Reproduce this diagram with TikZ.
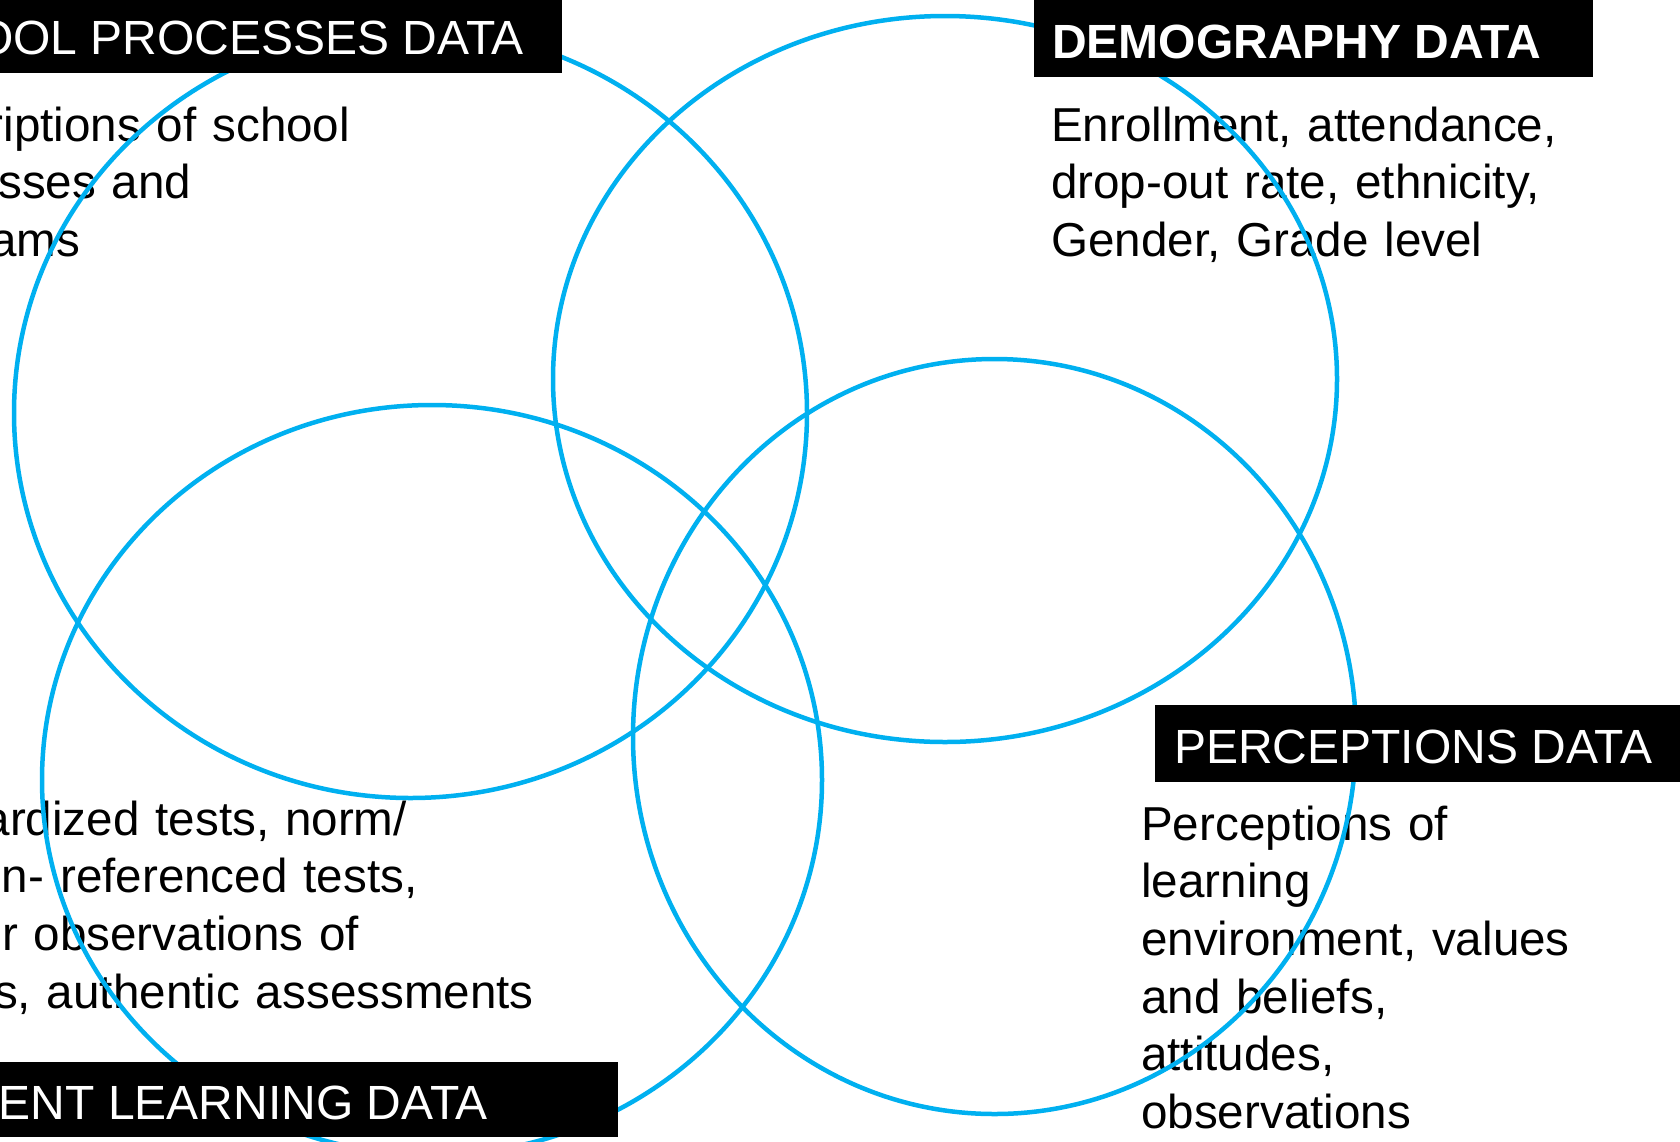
\documentclass[tikz,border=0pt]{standalone}
\usepackage{fontspec}
\setmainfont{Liberation Sans}
\definecolor{vennblue}{HTML}{00B0F0}
\begin{document}
\begin{tikzpicture}[x=1pt,y=-1pt,
  venn/.style={draw=vennblue,line width=4.5pt},
  headbox/.style={fill=black},
  headtext/.style={inner sep=0pt,text=white,font=\fontsize{48pt}{56pt}\selectfont},
  bodytext/.style={inner sep=0pt,align=left,text width=900pt,font=\fontsize{47.6pt}{57.7pt}\selectfont}]
\useasboundingbox (0,0) rectangle (1680,1141);
\clip (0,0) rectangle (1680,1141);
\fill[white] (0,0) rectangle (1680,1141);
% body texts
\node[bodytext,anchor=base west] (spbody) at (-121,141) {Descriptions of school\\processes and\\programs};
\node[bodytext,anchor=base west] (dembody) at (1051,141) {Enrollment, attendance,\\drop-out rate, ethnicity,\\Gender, Grade level};
\node[bodytext,anchor=base west] (slbody) at (-141,835) {Standardized tests, norm/\\criterion- referenced tests,\\teacher observations of\\abilities, authentic assessments};
\node[bodytext,anchor=base west] (perbody) at (1141,840) {Perceptions of\\learning\\environment, values\\and beliefs,\\attitudes,\\observations};
% ellipses
\draw[venn] (410.5,413) ellipse [x radius=396.5pt, y radius=385pt];
\draw[venn] (945,379) ellipse [x radius=392pt, y radius=363pt];
\draw[venn] (432,780) ellipse [x radius=390pt, y radius=375pt];
\draw[venn] (994.5,736.5) ellipse [x radius=361.5pt, y radius=377.5pt];
% header boxes
\fill[headbox] (-200,-10) rectangle (562,73);
\fill[headbox] (1034,-10) rectangle (1593,77);
\fill[headbox] (-200,1062) rectangle (618,1137);
\fill[headbox] (1155,705) rectangle (1700,782);
\node[headtext,anchor=base east] (sphead) at (524,54) {SCHOOL PROCESSES DATA};
\node[headtext,anchor=base west,font=\fontsize{48pt}{56pt}\selectfont\bfseries] (demhead) at (1052,58) {DEMOGRAPHY DATA};
\node[headtext,anchor=base east] (slhead) at (488,1119) {STUDENT LEARNING DATA};
\node[headtext,anchor=base west] (perhead) at (1174,763) {PERCEPTIONS DATA};
\end{tikzpicture}
\end{document}
